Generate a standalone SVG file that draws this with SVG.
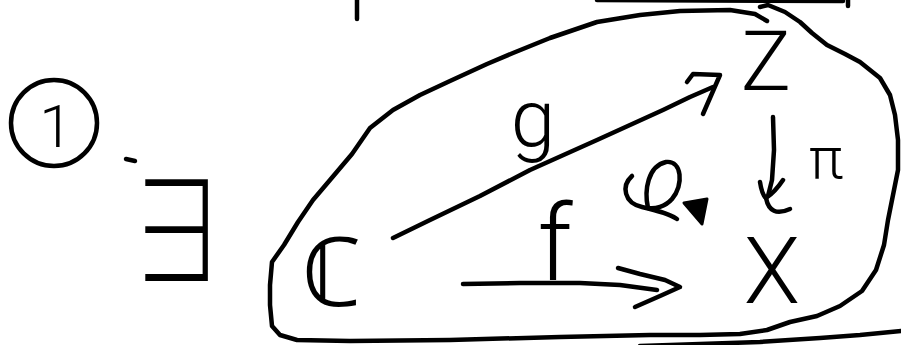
<svg xmlns="http://www.w3.org/2000/svg" width="901" height="345" viewBox="0 0 901 345">
<style>
.s{fill:none;stroke:#000;stroke-width:4.5;stroke-linecap:round;stroke-linejoin:round}
.t{font-family:Roboto,"Open Sans","DejaVu Sans",sans-serif;font-weight:300;fill:#000;text-anchor:middle}
.d{font-family:"DejaVu Sans",sans-serif;font-weight:200;fill:#000;text-anchor:middle}
.e{font-family:"Noto Sans CJK JP","DejaVu Sans",sans-serif;font-weight:300;fill:#000;text-anchor:middle}
</style>
<rect width="901" height="345" fill="#fff"/>
<g id="fragments">
<path class="s" d="M357,0 L357,19" stroke-width="6"/>
<path class="s" d="M597,0 L843,1"/>
<path class="s" d="M848,0 L848,6"/>
<path class="s" d="M640,346 L700,344 L760,342 L820,338 L860,335 L901,331"/>
</g>
<g id="label-1">
<circle class="s" cx="54" cy="123" r="43"/>
<text class="t" x="56" y="147" font-size="60">1</text>
<path class="s" d="M126,159 L135,161"/>
</g>
<g id="exists">
<text class="e" font-size="140" transform="translate(177,282) scale(0.75,1)">∃</text>
</g>
<g id="region">
<path class="s" d="M760,7 L768,5 L785,12 L800,22 L812,33 L827,45 L845,54 L860,62 L880,78 L890,95 L895,115 L898,140 L898,170 L893,195 L888,220 L884,245 L876,270 L862,291 L840,306 L817,316 L790,322 L767,330 L740,334 L700,335 L650,335 L560,337 L450,340 L350,341 L297,340 L280,335 L272,326 L270,305 L270,285 L272,262 L284,245 L298,222 L313,200 L330,180 L352,154 L370,128 L393,110 L420,95 L450,81 L487,64 L513,53 L550,38 L597,22 L640,15 L680,11 L730,10 L755,14 L767,21"/>
</g>
<g id="node-C"><text class="d" x="332" y="306" font-size="96">ℂ</text></g>
<g id="node-Z"><text class="t" x="766" y="90" font-size="84">Z</text></g>
<g id="node-X"><text class="t" x="772" y="303" font-size="92">X</text></g>
<g id="connectors">
<g id="edge-g">
<path class="s" d="M393,238 L430,220 L480,196 L530,170 L597,140 L663,110 L690,97 L713,87"/>
<path class="s" d="M687,82 L693,74 L720,75 L703,114"/>
<text class="t" x="533" y="146" font-size="80">g</text>
</g>
<g id="edge-f">
<path class="s" d="M463,284 L520,283 L580,283 L620,285 L657,290"/>
<path class="s" d="M618,268 L640,274 L665,280 L680,287 L660,296 L635,307"/>
<text class="t" x="555" y="280" font-size="105">f</text>
</g>
<g id="edge-pi">
<path class="s" d="M773,117 L774,150 L772,180 L768,196"/>
<path class="s" d="M760,182 Q762,195 766,198 Q775,192 783,180"/>
<path class="s" d="M766,198 Q770,218 790,209"/>
<text class="t" x="826" y="178" font-size="58">π</text>
</g>
<g id="commutes">
<path class="s" d="M632,176 C621,186 624,203 642,207 C655,210 668,213 677,219"/>
<path class="s" d="M648,208 C644,190 648,166 666,162 C682,160 684,185 672,199 C665,207 655,209 648,208"/>
<path d="M684,203 L707,199 L702,224 Z" fill="#000" stroke="#000" stroke-width="3" stroke-linejoin="round"/>
</g>
</g>
</svg>
